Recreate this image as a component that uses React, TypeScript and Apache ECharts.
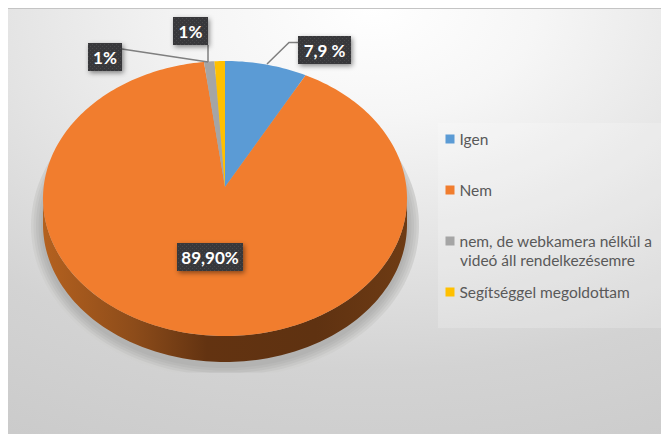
import React, { useEffect, useRef } from "react";
import * as echarts from "echarts";

const categories = ["Igen", "Nem", "nem, de webkamera nélkül a", "Segítséggel megoldottam"];
const shares = [7.9, 89.9, 1, 1];
const colors = ["#5b9bd5", "#f17d2e", "#a5a5a5", "#ffc000"];
const legendTops = [131, 182, 233, 284];
const legendSecondLine = "videó áll rendelkezésemre";
const valueLabels = ["7,9 %", "89,90%", "1%", "1%"];

// Tilted-disc geometry of the pie
const CX = 225;
const CY = 198.5;
const RX = 182;
const RY = 137.5;
const APEX_Y = 187;
const DEPTH = 26;
const TILT = (CY - APEX_Y) / RY;

const ellipsePoint = (a: number, drop = 0): number[] => [
  CX + RX * Math.sin(a),
  CY - RY * Math.cos(a) + drop,
];

// Perspective projection of a share of the circle onto the visible rim
const rimPoint = (fraction: number): number[] => {
  const a = fraction * Math.PI * 2;
  const x = Math.sin(a);
  const y = Math.cos(a);
  const w = 1 + TILT * y;
  return [CX + (RX * x * Math.sqrt(1 - TILT * TILT)) / w, CY - (RY * (y + TILT)) / w];
};

const total = shares.reduce((s, v) => s + v, 0);

const rimArc = (from: number, to: number): number[][] => {
  const steps = Math.max(4, Math.ceil((to - from) * 300));
  const pts: number[][] = [];
  for (let i = 0; i <= steps; i++) pts.push(rimPoint(from + ((to - from) * i) / steps));
  return pts;
};

const lowerEdge = (drop: number): number[][] => {
  const pts: number[][] = [];
  for (let i = 0; i <= 120; i++) pts.push(ellipsePoint(Math.PI / 2 + (Math.PI * i) / 120, drop));
  return pts;
};

const sliceSeries = categories.map((name, idx) => ({
  type: "custom" as const,
  name,
  coordinateSystem: "none",
  itemStyle: { color: colors[idx] },
  data: [shares[idx]],
  z: 3,
  silent: true,
  renderItem: (_params: unknown, api: { value: (d: number) => number }) => {
    const value = api.value(0);
    const before = shares.slice(0, idx).reduce((s, v) => s + v, 0);
    const from = before / total;
    const to = (before + value) / total;
    const children: object[] = [];
    if (name === "Nem") {
      // Visible side wall runs along the lower half of the rim
      const wall = [...lowerEdge(0), ...lowerEdge(DEPTH).reverse()];
      children.push({
        type: "polygon",
        shape: { points: wall },
        style: {
          fill: {
            type: "linear", x: 0, y: 0, x2: 1, y2: 0,
            colorStops: [
              { offset: 0, color: "#b4611f" },
              { offset: 0.25, color: "#8d4c1a" },
              { offset: 0.45, color: "#633311" },
              { offset: 0.75, color: "#5f3211" },
              { offset: 1, color: "#6e3b14" },
            ],
          },
        },
      });
    }
    children.push({
      type: "polygon",
      shape: { points: [[CX, APEX_Y], ...rimArc(from, to)] },
      style: { fill: colors[idx] },
    });
    return { type: "group", children };
  },
}));

// Fine dotted texture of the value boxes
const dotTexture = (): HTMLCanvasElement => {
  const c = document.createElement("canvas");
  c.width = 4;
  c.height = 4;
  const g = c.getContext("2d")!;
  g.fillStyle = "#38393b";
  g.fillRect(0, 0, 4, 4);
  g.fillStyle = "#48494b";
  g.fillRect(0, 0, 1, 1);
  g.fillRect(2, 2, 1, 1);
  return c;
};

const labelBox = (text: string, x: number, y: number, w: number, h: number, tex: HTMLCanvasElement) => [
  {
    type: "rect", z: 10, silent: true,
    shape: { x, y, width: w, height: h },
    style: {
      fill: { image: tex, repeat: "repeat" }, shadowBlur: 5, shadowColor: "rgba(0,0,0,0.45)",
      shadowOffsetX: 1.5, shadowOffsetY: 2,
    },
  },
  {
    type: "text", z: 11, silent: true, x: x + w / 2, y: y + h / 2,
    style: {
      text, fill: "#ffffff", font: "bold 17px Lato", align: "center", verticalAlign: "middle",
    },
  },
];

const leader = (points: number[][]) => ({
  type: "polyline", z: 9, silent: true,
  shape: { points },
  style: { stroke: "#7f7f7f", lineWidth: 1.5, fill: "none" },
});

// Soft ground shadow under the disc, stacked from opaque rings that darken inwards
const shadowLayers = () => {
  const tones = ["#d0d0cf", "#c8c8c7", "#c0c0bf", "#b9b9b8", "#b3b3b2"];
  return tones.map((tone, k) => {
    const pts: number[][] = [];
    for (let i = 0; i <= 160; i++) {
      const a = (i / 160) * Math.PI * 2;
      pts.push([
        CX + (194 - k * 2.5) * Math.sin(a),
        Math.min(372.5, 226 - (152 - k * 2.5) * Math.cos(a)),
      ]);
    }
    return {
      type: "polygon", z: 2, silent: true,
      shape: { points: pts },
      style: { fill: tone },
    };
  });
};

export default function App() {
  const ref = useRef<HTMLDivElement>(null);
  useEffect(() => {
    const chart = echarts.init(ref.current!, undefined, { renderer: "svg" });
    const tex = dotTexture();
    chart.setOption({
      animation: false,
      backgroundColor: "#ffffff",
      legend: categories.map((name, i) => ({
        data: [{ name, icon: "rect" }],
        left: 445.5,
        top: legendTops[i],
        padding: 0,
        itemWidth: 9,
        itemHeight: 9,
        selectedMode: false,
        textStyle: { fontFamily: "Lato", fontSize: 15.5, color: "#595959" },
      })),
      graphic: {
        elements: [
          {
            type: "rect", z: 0, silent: true,
            shape: { x: 8, y: 8, width: 653, height: 426 },
            style: {
              fill: {
                type: "radial", x: 0.56, y: 0, r: 1.25,
                colorStops: [
                  { offset: 0, color: "#ffffff" },
                  { offset: 0.2, color: "#f6f6f6" },
                  { offset: 0.45, color: "#e4e4e4" },
                  { offset: 0.68, color: "#d3d3d3" },
                  { offset: 1, color: "#c8c8c8" },
                ],
              },
            },
          },
          {
            type: "line", z: 1, silent: true,
            shape: { x1: 8, y1: 8.5, x2: 661, y2: 8.5 },
            style: { stroke: "#c4c4c4", lineWidth: 1 },
          },
          {
            type: "rect", z: 1, silent: true,
            shape: { x: 438, y: 123, width: 223, height: 205 },
            style: { fill: "rgba(255,255,255,0.2)" },
          },
          ...shadowLayers(),
          {
            type: "text", z: 5, silent: true, x: 460, y: 260,
            style: {
              text: legendSecondLine, fill: "#595959", font: "15.5px Lato", verticalAlign: "middle",
            },
          },
          leader([[298, 42.5], [289, 42.5], [267, 64]]),
          leader([[208, 45], [208, 62]]),
          leader([[122, 49], [208, 62]]),
          ...labelBox(valueLabels[0], 298, 36, 53, 28, tex),
          ...labelBox(valueLabels[1], 177, 243, 66, 28, tex),
          ...labelBox(valueLabels[2], 88, 43, 34, 28, tex),
          ...labelBox(valueLabels[3], 173, 17, 35, 28, tex),
        ],
      },
      series: sliceSeries,
    });
    return () => chart.dispose();
  }, []);
  return (
    <div
      ref={ref}
      style={{ position: "absolute", left: 0, top: 0, width: 661, height: 434 }}
    />
  );
}
